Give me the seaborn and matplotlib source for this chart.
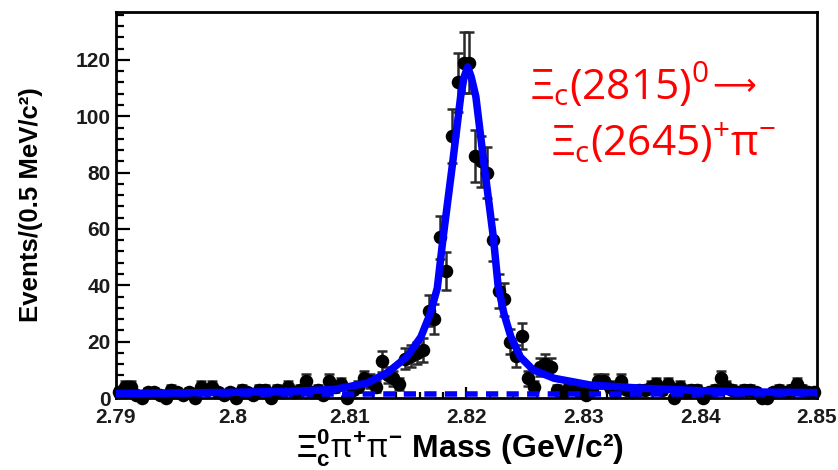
import numpy as np
import pandas as pd
import matplotlib
matplotlib.use("Agg")
import matplotlib.pyplot as plt
import seaborn as sns
from matplotlib.ticker import MultipleLocator

# ---------------- data ----------------
bin_low = 2.79
bin_width = 0.0005
counts = [2, 4, 4, 1, 0, 2, 2, 1, 0, 3,
          2, 1, 2, 0, 4, 3, 4, 2, 1, 2,
          0, 3, 2, 1, 3, 3, 0, 3, 2, 4,
          2, 3, 6, 2, 3, 1, 6, 4, 5, 0,
          3, 4, 7, 6, 4, 13, 8, 7, 5, 14,
          15, 16, 17, 31, 28, 57, 45, 93, 112, 119,
          119, 86, 84, 80, 56, 38, 35, 20, 15, 22,
          7, 4, 11, 12, 11, 3, 2, 4, 4, 2,
          1, 3, 6, 6, 4, 2, 6, 3, 2, 3,
          3, 4, 5, 3, 5, 0, 4, 2, 3, 3,
          0, 2, 3, 7, 4, 3, 2, 3, 3, 2,
          0, 0, 2, 3, 2, 3, 5, 3, 2, 2]

fit_x = [2.7900, 2.7950, 2.8000, 2.8050, 2.8086, 2.8115, 2.8132, 2.8149,
         2.8161, 2.8169, 2.8175, 2.8180, 2.8188, 2.8195, 2.8198, 2.8201,
         2.8204, 2.8208, 2.8215, 2.8223, 2.8227, 2.8232, 2.8238, 2.8246,
         2.8257, 2.8275, 2.8306, 2.8349, 2.8400, 2.8435, 2.8500]
fit_y = [1.6, 1.8, 2.0, 2.4, 3.0, 5.3, 8.9, 14.6,
         21.7, 30.0, 39.0, 57.0, 83.0, 107.0, 114.0, 117.5,
         114.0, 107.0, 83.0, 57.0, 40.0, 30.0, 21.7, 14.6,
         10.0, 7.0, 4.6, 3.5, 2.6, 2.2, 1.9]

bkg_x = [2.79, 2.85]
bkg_y = [1.5, 1.5]

xtick_vals = [2.79, 2.80, 2.81, 2.82, 2.83, 2.84, 2.85]
xtick_labels = ["2.79", "2.8", "2.81", "2.82", "2.83", "2.84", "2.85"]
ytick_vals = [0, 20, 40, 60, 80, 100, 120]
ytick_labels = ["0", "20", "40", "60", "80", "100", "120"]

# ---------------- style ----------------
sns.set_theme(style="white")
plt.rcParams.update({
    "font.family": ["Liberation Sans", "DejaVu Sans"],
    "mathtext.fontset": "custom",
    "mathtext.rm": "Open Sans",
    "mathtext.it": "Open Sans",
    "mathtext.bf": "Liberation Sans:bold",
    "mathtext.sf": "Liberation Sans:bold",
})

centers = bin_low + bin_width * (np.arange(len(counts)) + 0.5)
cnt = np.array(counts, dtype=float)
err = np.sqrt(cnt)
df = pd.DataFrame({"mass": centers, "events": cnt, "err": err})
fit_df = pd.DataFrame({"mass": fit_x, "events": fit_y})
bkg_df = pd.DataFrame({"mass": bkg_x, "events": bkg_y})

W, H = 838, 470
fig = plt.figure(figsize=(W / 100, H / 100), dpi=100)
ax = fig.add_axes([116 / W, 1 - 398 / H, (817 - 116) / W, (398 - 12) / H])

# error bars
nz = df[df["events"] > 0]
ax.errorbar(nz["mass"], nz["events"], yerr=nz["err"], fmt="none",
            ecolor="#2a2a2a", elinewidth=1.8, capsize=3.5, capthick=1.8,
            zorder=2, clip_on=False)
# points
sns.scatterplot(data=df, x="mass", y="events", ax=ax, color="black",
                s=95, edgecolor="black", linewidth=0, zorder=3, clip_on=False,
                legend=False)
# background
sns.lineplot(data=bkg_df, x="mass", y="events", ax=ax, color="#0000ff",
             linewidth=4.0, zorder=4)
ax.lines[-1].set_dashes([2.2, 1.5])
# fit
sns.lineplot(data=fit_df, x="mass", y="events", ax=ax, color="#0000ff",
             linewidth=5.4, zorder=5)

ax.set_xlim(2.79, 2.85)
ax.set_ylim(0, 137)
ax.set_xticks(xtick_vals, xtick_labels)
ax.set_yticks(ytick_vals, ytick_labels)
ax.xaxis.set_minor_locator(MultipleLocator(0.002))
ax.yaxis.set_minor_locator(MultipleLocator(4))
ax.tick_params(axis="both", which="both", direction="in", color="black",
               width=1.6, bottom=True, left=True, top=False, right=False)
ax.tick_params(axis="y", which="major", length=10, pad=4)
ax.tick_params(axis="y", which="minor", length=6)
ax.tick_params(axis="x", which="major", length=8, pad=7)
ax.tick_params(axis="x", which="minor", length=4.5)
for lab in ax.get_xticklabels() + ax.get_yticklabels():
    lab.set_fontsize(15)
    lab.set_fontweight("bold")
    lab.set_color("#1b1b1b")
for sp in ax.spines.values():
    sp.set_color("black")
    sp.set_linewidth(2)
ax.set_xlabel("")
ax.set_ylabel("")

fig.text(31 / W, 1 - 205 / H, "Events/(0.5 MeV/c²)", rotation=90,
         ha="center", va="center", fontsize=18.5, fontweight="bold",
         color="black")
fig.text(460 / W, 1 - 457 / H,
         r"$\mathbf{\Xi}^{\mathbf{0}}_{\mathbf{c}}\pi^{\mathbf{+}}\pi^{\mathbf{-}}$ Mass (GeV/c²)",
         ha="center", va="baseline", fontsize=23, fontweight="bold",
         color="black")

fig.text(530 / W, 1 - 100 / H, r"$\mathrm{\Xi_c(2815)^0}$",
         ha="left", va="baseline", fontsize=30.5, color="#ff0000")
fig.text(712 / W, 1 - 87 / H, "⟶",
         ha="left", va="center", fontsize=22, color="#ff0000",
         family="DejaVu Sans")
fig.text(551 / W, 1 - 156 / H, r"$\mathrm{\Xi_c(2645)^{+}\pi^{-}}$",
         ha="left", va="baseline", fontsize=30.5, color="#ff0000")

fig.savefig("out.png", dpi=100)
